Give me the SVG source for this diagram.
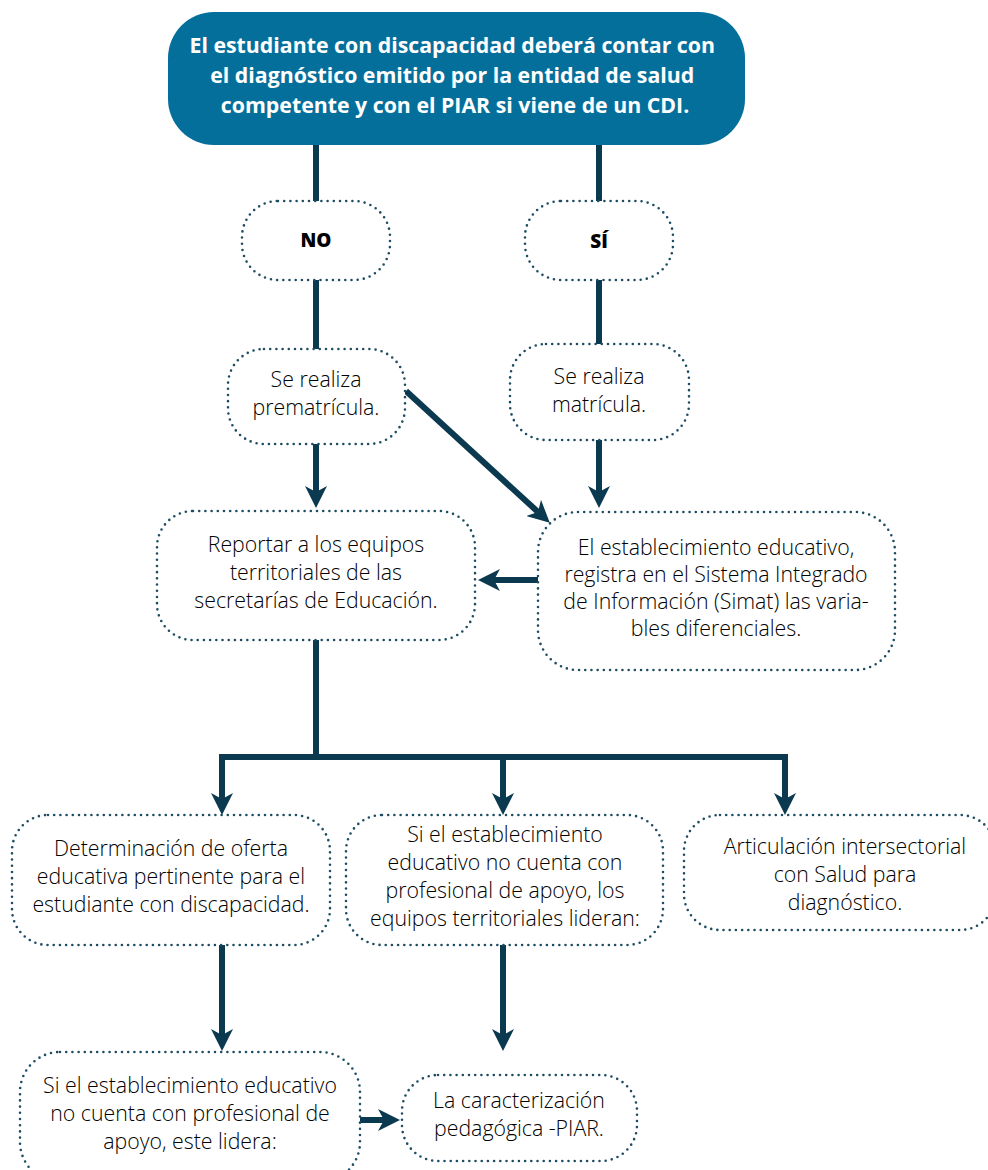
<svg xmlns="http://www.w3.org/2000/svg" width="988" height="1170" viewBox="0 0 988 1170">
<defs>
<marker id="ah" viewBox="0 0 22 22" refX="6" refY="11" markerWidth="22" markerHeight="22" markerUnits="userSpaceOnUse" orient="auto">
<path d="M0,0 L22,11 L0,22 L6,11 z" fill="#0b3a50"/>
</marker>
<style>
.box{fill:#fff;stroke:#1e4d63;stroke-width:2.6;stroke-dasharray:0 6.2;stroke-linecap:round}
.t{font-family:"Open Sans",Lato,sans-serif;font-weight:300;font-size:21.3px;fill:#000;text-anchor:middle}
.b{font-family:"Open Sans",Lato,sans-serif;font-weight:800;font-size:19px;fill:#000;text-anchor:middle}
.ln{stroke:#0b3a50;stroke-width:6;fill:none}
.ar{stroke:#0b3a50;stroke-width:6;fill:none;marker-end:url(#ah)}
</style>
</defs>
<rect width="988" height="1170" fill="#fff"/>
<g id="connectors">
<line class="ln" x1="316" y1="145" x2="316" y2="201"/>
<line class="ln" x1="599" y1="145" x2="599" y2="201"/>
<line class="ln" x1="316" y1="280" x2="316" y2="349"/>
<line class="ln" x1="599" y1="280" x2="599" y2="344"/>
<line class="ar" x1="316" y1="444" x2="316" y2="492"/>
<line class="ar" x1="599" y1="440" x2="599" y2="492"/>
<line class="ar" x1="406" y1="391" x2="538" y2="512"/>
<line class="ar" x1="538" y1="580" x2="494" y2="580"/>
<line class="ln" x1="316" y1="640" x2="316" y2="757"/>
<line class="ln" x1="219" y1="757" x2="788" y2="757"/>
<line class="ar" x1="222" y1="754" x2="222" y2="799"/>
<line class="ar" x1="503" y1="754" x2="503" y2="799"/>
<line class="ar" x1="785" y1="754" x2="785" y2="799"/>
<line class="ar" x1="222" y1="945" x2="222" y2="1035"/>
<line class="ar" x1="503" y1="945" x2="503" y2="1035"/>
<line class="ar" x1="360" y1="1120" x2="384" y2="1120"/>
</g>
<g id="n-top">
<rect x="168" y="12" width="577" height="133" rx="46" fill="#056f9c"/>
<text font-family="'Open Sans',Lato,sans-serif" font-weight="bold" font-size="21.3" fill="#fff" text-anchor="middle">
<tspan x="455" y="53">El estudiante con discapacidad deberá contar con</tspan>
<tspan x="455" y="83">el diagnóstico emitido por la entidad de salud</tspan>
<tspan x="455" y="113">competente y con el PIAR si viene de un CDI.</tspan>
</text>
</g>
<g id="n-no">
<rect class="box" x="242" y="201" width="148" height="79" rx="36"/>
<text class="b" x="316" y="247">NO</text>
</g>
<g id="n-si">
<rect class="box" x="525" y="201" width="148" height="79" rx="36"/>
<text class="b" x="599" y="248">SÍ</text>
</g>
<g id="n-prematricula">
<rect class="box" x="228" y="349" width="177" height="95" rx="36"/>
<text class="t"><tspan x="316" y="387">Se realiza</tspan><tspan x="316" y="415">prematrícula.</tspan></text>
</g>
<g id="n-matricula">
<rect class="box" x="510" y="344" width="179" height="96" rx="36"/>
<text class="t"><tspan x="599" y="384">Se realiza</tspan><tspan x="599" y="412">matrícula.</tspan></text>
</g>
<g id="n-reportar">
<rect class="box" x="157" y="511" width="318" height="129" rx="36"/>
<text class="t"><tspan x="316" y="552">Reportar a los equipos</tspan><tspan x="316" y="580">territoriales de las</tspan><tspan x="316" y="608">secretarías de Educación.</tspan></text>
</g>
<g id="n-simat">
<rect class="box" x="538" y="512" width="357" height="158" rx="40"/>
<text class="t"><tspan x="716" y="555">El establecimiento educativo,</tspan><tspan x="716" y="582">registra en el Sistema Integrado</tspan><tspan x="716" y="609">de Información (Simat) las varia-</tspan><tspan x="716" y="636">bles diferenciales.</tspan></text>
</g>
<g id="n-oferta">
<rect class="box" x="12" y="815" width="318" height="130" rx="36"/>
<text class="t"><tspan x="171" y="856">Determinación de oferta</tspan><tspan x="171" y="884">educativa pertinente para el</tspan><tspan x="171" y="912">estudiante con discapacidad.</tspan></text>
</g>
<g id="n-equipos">
<rect class="box" x="346" y="815" width="317" height="130" rx="36"/>
<text class="t"><tspan x="505" y="842">Si el establecimiento</tspan><tspan x="505" y="870">educativo no cuenta con</tspan><tspan x="505" y="898">profesional de apoyo, los</tspan><tspan x="505" y="926">equipos territoriales lideran:</tspan></text>
</g>
<g id="n-salud">
<rect class="box" x="684" y="815" width="312" height="115" rx="36"/>
<text class="t"><tspan x="845" y="854">Articulación intersectorial</tspan><tspan x="845" y="882">con Salud para</tspan><tspan x="845" y="910">diagnóstico.</tspan></text>
</g>
<g id="n-lidera">
<rect class="box" x="20" y="1052" width="340" height="130" rx="40"/>
<text class="t"><tspan x="190" y="1093">Si el establecimiento educativo</tspan><tspan x="190" y="1121">no cuenta con profesional de</tspan><tspan x="190" y="1149">apoyo, este lidera:</tspan></text>
</g>
<g id="n-piar">
<rect class="box" x="402" y="1075" width="235" height="86" rx="36"/>
<text class="t"><tspan x="519" y="1108">La caracterización</tspan><tspan x="519" y="1136">pedagógica -PIAR.</tspan></text>
</g>
</svg>
